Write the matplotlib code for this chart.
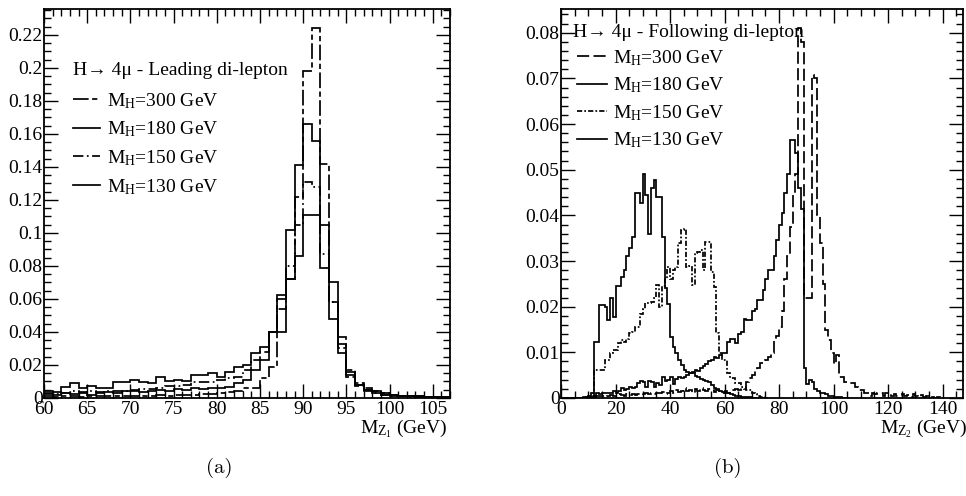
import numpy as np
import matplotlib
matplotlib.use('Agg')
import matplotlib.pyplot as plt
from matplotlib.lines import Line2D
from matplotlib.ticker import MultipleLocator, FuncFormatter

plt.rcParams['font.family'] = ['Liberation Serif', 'DejaVu Serif']
plt.rcParams['mathtext.fontset'] = 'custom'
plt.rcParams['mathtext.rm'] = 'Liberation Serif'
plt.rcParams['mathtext.it'] = 'Liberation Serif:italic'

# ---------------- Panel (a): leading di-lepton, 1 GeV bins from 60 GeV ----------------
a_start = 60
h300a = [0.001, 0.0008, 0.001, 0.0012, 0.0008, 0.001, 0.0012, 0.001, 0.0012, 0.0015,
         0.0012, 0.0015, 0.0015, 0.0018, 0.0015, 0.002, 0.0018, 0.002, 0.0025, 0.0022,
         0.003, 0.0035, 0.0045, 0.006, 0.006, 0.012, 0.019, 0.060, 0.072, 0.122,
         0.198, 0.224, 0.142, 0.058, 0.037, 0.017, 0.009, 0.006, 0.004, 0.003,
         0.002, 0.0015, 0.0012, 0.001, 0.0008, 0.0006, 0.0005]
h180a = [0.0025, 0.002, 0.003, 0.0025, 0.003, 0.002, 0.003, 0.0035, 0.003, 0.004,
         0.004, 0.0035, 0.004, 0.005, 0.0045, 0.0055, 0.005, 0.006, 0.0055, 0.006,
         0.006, 0.0066, 0.009, 0.011, 0.017, 0.023, 0.040, 0.0625, 0.1015, 0.141,
         0.166, 0.156, 0.105, 0.070, 0.033, 0.016, 0.008, 0.005, 0.003, 0.002,
         0.0015, 0.001, 0.001, 0.0008, 0.0005, 0.0005, 0.0003]
h150a = [0.003, 0.0025, 0.003, 0.004, 0.0035, 0.004, 0.0035, 0.004, 0.0045, 0.004,
         0.005, 0.0055, 0.0055, 0.006, 0.007, 0.0075, 0.008, 0.0095, 0.0099, 0.0099,
         0.011, 0.012, 0.013, 0.0167, 0.023, 0.028, 0.040, 0.054, 0.080, 0.105,
         0.131, 0.128, 0.087, 0.058, 0.030, 0.013, 0.007, 0.004, 0.003, 0.002,
         0.0015, 0.001, 0.0008, 0.0006, 0.0005, 0.0004, 0.0003]
h130a = [0.004, 0.0035, 0.0065, 0.009, 0.006, 0.0075, 0.006, 0.006, 0.0095, 0.0095,
         0.011, 0.0095, 0.009, 0.013, 0.0105, 0.011, 0.010, 0.014, 0.014, 0.015,
         0.0125, 0.016, 0.019, 0.020, 0.027, 0.031, 0.040, 0.040, 0.072, 0.086,
         0.111, 0.111, 0.079, 0.048, 0.027, 0.014, 0.008, 0.005, 0.004, 0.003,
         0.002, 0.0015, 0.001, 0.001, 0.0008, 0.0008, 0.0005]

# ---------------- Panel (b): following di-lepton, 1 GeV bins from 0 GeV ----------------
b_start = 0
h300b = [0, 0, 0, 0, 0, 0, 0, 0, 0, 0.0002,
         0.0002, 0.0003, 0.0003, 0.0005, 0.0004, 0.0005, 0.0003, 0.0005, 0.0006, 0.0004,
         0.0005, 0.0008, 0.0006, 0.0005, 0.0008, 0.0006, 0.0009, 0.0007, 0.0008, 0.001,
         0.0008, 0.0011, 0.0009, 0.0012, 0.0008, 0.0012, 0.001, 0.0013, 0.0009, 0.0012,
         0.0015, 0.0012, 0.0018, 0.0013, 0.0015, 0.0022, 0.0015, 0.0018, 0.0012, 0.002,
         0.0015, 0.0022, 0.0018, 0.0015, 0.002, 0.0017, 0.0013, 0.0018, 0.0015, 0.0012,
         0.0015, 0.0012, 0.0018, 0.0018, 0.002, 0.0018, 0.0022, 0.002, 0.0035, 0.0043,
         0.005, 0.0062, 0.0065, 0.0076, 0.0076, 0.0083, 0.009, 0.0098, 0.0127, 0.0135,
         0.0155, 0.019, 0.026, 0.031, 0.0375, 0.045, 0.049, 0.081, 0.078, 0.022,
         0.022, 0.022, 0.0707, 0.070, 0.040, 0.034, 0.025, 0.015, 0.0127, 0.0098,
         0.0075, 0.0095, 0.0047, 0.0045, 0.0036, 0.0036, 0.0032, 0.0032, 0.0025, 0.0018,
         0.0018, 0.0012, 0.001, 0.0005, 0.0012, 0.0008, 0.0012, 0.0012, 0.0005, 0.0012,
         0.0008, 0.0005, 0.0008, 0.0005, 0.0004, 0.0008, 0.0004, 0.0006, 0.0003, 0.0008,
         0.0004, 0.0003, 0.0006, 0.0002, 0.0004, 0.0001, 0.0003, 0.0001, 0.0002, 0]
h180b = [0, 0, 0, 0, 0, 0, 0, 0, 0, 0.0002,
         0.0002, 0.0003, 0.0005, 0.001, 0.0008, 0.001, 0.001, 0.0012, 0.001, 0.0015,
         0.0012, 0.0015, 0.0022, 0.0018, 0.002, 0.0025, 0.0022, 0.0025, 0.0032, 0.0038,
         0.0035, 0.0025, 0.0038, 0.0035, 0.0025, 0.0032, 0.0028, 0.0045, 0.0038, 0.004,
         0.0045, 0.003, 0.0042, 0.0045, 0.0043, 0.0047, 0.005, 0.0055, 0.0058, 0.0062,
         0.006, 0.0065, 0.0069, 0.0075, 0.008, 0.0083, 0.009, 0.0087, 0.0095, 0.0098,
         0.0098, 0.0123, 0.013, 0.013, 0.0121, 0.014, 0.0145, 0.0174, 0.017, 0.017,
         0.019, 0.0195, 0.0215, 0.0215, 0.0237, 0.026, 0.028, 0.028, 0.031, 0.0345,
         0.038, 0.0405, 0.045, 0.049, 0.0565, 0.0565, 0.0536, 0.046, 0.0415, 0.0066,
         0.003, 0.004, 0.0035, 0.002, 0.0015, 0.001, 0.001, 0.0008, 0.0005, 0.0005,
         0.0003, 0.0002, 0.0002, 0.0001, 0.0001, 0]
h150b = [0, 0, 0, 0, 0, 0, 0, 0, 0, 0,
         0.0002, 0.0005, 0.0062, 0.0062, 0.0061, 0.0061, 0.0083, 0.0083, 0.0098, 0.0105,
         0.0105, 0.012, 0.0127, 0.0122, 0.013, 0.0142, 0.0145, 0.0156, 0.0156, 0.0185,
         0.0196, 0.0207, 0.0207, 0.021, 0.022, 0.0247, 0.020, 0.0245, 0.026, 0.0288,
         0.026, 0.028, 0.0288, 0.034, 0.0368, 0.037, 0.0288, 0.029, 0.0247, 0.0317,
         0.032, 0.0324, 0.028, 0.0342, 0.0342, 0.0277, 0.0244, 0.0142, 0.0098, 0.0083,
         0.0083, 0.0054, 0.0043, 0.0043, 0.0032, 0.0032, 0.0025, 0.0025, 0.0018, 0.0018,
         0.001, 0.0008, 0.0005, 0.0003, 0.0002, 0]
h130b = [0, 0, 0, 0, 0, 0, 0, 0, 0.0003, 0.0003,
         0.0005, 0.001, 0.0123, 0.0123, 0.0204, 0.0204, 0.020, 0.017, 0.0218, 0.0178,
         0.0245, 0.0245, 0.0265, 0.028, 0.031, 0.0328, 0.0353, 0.0448, 0.0448, 0.0426,
         0.049, 0.0445, 0.036, 0.046, 0.0477, 0.044, 0.044, 0.0353, 0.024, 0.0205,
         0.0134, 0.0112, 0.0098, 0.0083, 0.0072, 0.0061, 0.0058, 0.0055, 0.0055, 0.0048,
         0.0047, 0.0042, 0.004, 0.0038, 0.0034, 0.0028, 0.0022, 0.002, 0.0016, 0.0014,
         0.0012, 0.001, 0.0008, 0.0006, 0.0005, 0.0004, 0.0003, 0.0003, 0.0002, 0.0002,
         0.0001, 0.0001, 0.0001, 0, 0.0001, 0]

labels = ['M$_\\mathrm{H}$=300 GeV', 'M$_\\mathrm{H}$=180 GeV',
          'M$_\\mathrm{H}$=150 GeV', 'M$_\\mathrm{H}$=130 GeV']
title_a = 'H\u2192 4\u03bc - Leading di-lepton'
title_b = 'H\u2192 4\u03bc - Following di-lepton'

LW = 1.25
styles_a = [(0, (9, 2, 3, 2)), '-', (0, (6, 2, 1, 2)), '-']
styles_b = [(0, (7, 2.5)), '-', (0, (3, 1.2, 1, 1.2)), '-']


def edges(start, n):
    return np.arange(start, start + n + 1)


fig = plt.figure(figsize=(9.66, 4.96), dpi=100)
axa = fig.add_axes([44 / 966, 98 / 496, 406 / 966, 389 / 496])
axb = fig.add_axes([561 / 966, 98 / 496, 402 / 966, 389 / 496])

for vals, st in zip([h300a, h180a, h150a, h130a], styles_a):
    axa.stairs(vals, edges(a_start, len(vals)), baseline=None, color='black',
               lw=LW, linestyle=st)
for vals, st in zip([h300b, h180b, h150b, h130b], styles_b):
    axb.stairs(vals, edges(b_start, len(vals)), baseline=None, color='black',
               lw=LW, linestyle=st)

fmt = FuncFormatter(lambda v, _: '%g' % round(v, 6))
for ax in (axa, axb):
    ax.tick_params(which='both', direction='in', top=True, right=True,
                   labelsize=14, width=1.0, colors='black')
    ax.tick_params(which='major', length=10)
    ax.tick_params(which='minor', length=5)
    ax.tick_params(axis='y', pad=1)
    ax.tick_params(axis='x', pad=2)
    ax.yaxis.set_major_formatter(fmt)
    for s in ax.spines.values():
        s.set_linewidth(1.3)

axa.set_xlim(60, 107)
axa.set_ylim(0, 0.2357)
axa.xaxis.set_major_locator(MultipleLocator(5))
axa.xaxis.set_minor_locator(MultipleLocator(1))
axa.yaxis.set_major_locator(MultipleLocator(0.02))
axa.yaxis.set_minor_locator(MultipleLocator(0.005))

axb.set_xlim(0, 147.5)
axb.set_ylim(0, 0.0852)
axb.xaxis.set_major_locator(MultipleLocator(20))
axb.xaxis.set_minor_locator(MultipleLocator(5))
axb.yaxis.set_major_locator(MultipleLocator(0.01))
axb.yaxis.set_minor_locator(MultipleLocator(0.002))

axa.set_xlabel('M$_{\\mathrm{Z}_1}$ (GeV)', fontsize=14, ha='right', va='center')
axa.xaxis.set_label_coords(0.993, -31 / 389)
axb.set_xlabel('M$_{\\mathrm{Z}_2}$ (GeV)', fontsize=14, ha='right', va='center')
axb.xaxis.set_label_coords(1.01, -31 / 389)

# legend titles
axa.text(0.071, (398 - 71) / 389, title_a, transform=axa.transAxes,
         ha='left', va='center', fontsize=14)
axb.text(0.030, (398 - 33) / 389, title_b, transform=axb.transAxes,
         ha='left', va='center', fontsize=14)

handles_a = [Line2D([], [], color='black', lw=LW, linestyle=st) for st in styles_a]
handles_b = [Line2D([], [], color='black', lw=LW, linestyle=st) for st in styles_b]

axa.legend(handles_a, labels, loc='upper left',
           bbox_to_anchor=(0.071, (398 - 91) / 389), frameon=False, fontsize=14,
           handlelength=1.4, handletextpad=0.35,
           labelspacing=0.46, borderpad=0, borderaxespad=0)
axb.legend(handles_b, labels, loc='upper left',
           bbox_to_anchor=(0.040, (398 - 48) / 389), frameon=False, fontsize=14,
           handlelength=1.55, handletextpad=0.3,
           labelspacing=0.40, borderpad=0, borderaxespad=0)

fig.text(219 / 966, 1 - 468 / 496, '(a)', ha='center', va='center', family='cmr10', fontsize=15)
fig.text(728 / 966, 1 - 468 / 496, '(b)', ha='center', va='center', family='cmr10', fontsize=15)

fig.savefig('out.png', dpi=100)
